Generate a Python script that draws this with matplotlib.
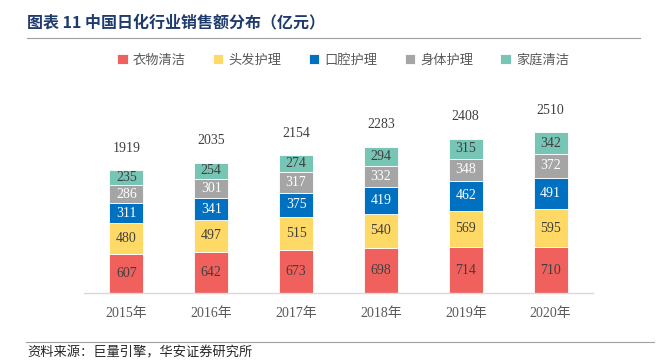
import matplotlib
matplotlib.use("Agg")
import matplotlib.pyplot as plt
import numpy as np

years = ["2015年", "2016年", "2017年", "2018年", "2019年", "2020年"]
clothing = [607, 642, 673, 698, 714, 710]
hair = [480, 497, 515, 540, 569, 595]
oral = [311, 341, 375, 419, 462, 491]
body = [286, 301, 317, 332, 348, 372]
home = [235, 254, 274, 294, 315, 342]
totals = [1919, 2035, 2154, 2283, 2408, 2510]

series = [
    ("衣物清洁", clothing, "#F0605D", "#404040"),
    ("头发护理", hair, "#FFD966", "#404040"),
    ("口腔护理", oral, "#0070C0", "white"),
    ("身体护理", body, "#A5A5A5", "white"),
    ("家庭清洁", home, "#76C5B5", "#404040"),
]

num_font = ["Liberation Serif", "Noto Sans CJK SC"]
cjk_font = ["Noto Sans CJK SC", "DejaVu Sans"]

fig = plt.figure(figsize=(6.65, 3.62), dpi=100)
ax = fig.add_axes([84 / 665, 69 / 362, 509 / 665, 208 / 362])

x = np.arange(len(years))
bottom = np.zeros(len(years))
handles = []
for name, vals, color, tcolor in series:
    bars = ax.bar(x, vals, width=0.40, bottom=bottom, color=color,
                  edgecolor="white", linewidth=0.6, label=name)
    handles.append(bars)
    for xi, b, v in zip(x, bottom, vals):
        ax.text(xi, b + v / 2, str(v), ha="center", va="center",
                fontsize=10, color=tcolor, family=num_font)
    bottom += np.array(vals)

for xi, t in zip(x, totals):
    ax.text(xi, t + 340, str(t), ha="center", va="center",
            fontsize=10, color="#404040", family=num_font)

ax.set_xlim(-0.5, len(years) - 0.5)
ax.set_ylim(0, 3245)
ax.set_xticks(x)
ax.set_xticklabels(years, family=num_font, fontsize=10, color="#595959")
ax.tick_params(axis="x", length=0, pad=10)
ax.set_yticks([])
for s in ["top", "right", "left"]:
    ax.spines[s].set_visible(False)
ax.spines["bottom"].set_color("#D9D9D9")
ax.spines["bottom"].set_linewidth(1.0)

fig.legend(handles=handles, loc="center", bbox_to_anchor=(0.516, 1 - 60 / 362),
           ncol=5, frameon=False, handlelength=0.8, handleheight=0.8,
           handletextpad=0.4, columnspacing=2.05,
           prop={"family": cjk_font, "size": 9.5}, labelcolor="#595959")

fig.text(27 / 665, 1 - 22 / 362, "图表 11 中国日化行业销售额分布（亿元）",
         ha="left", va="center", fontsize=11.5, fontweight="bold",
         color="#1F3B6E", family=cjk_font)
fig.add_artist(plt.Line2D([27 / 665, 640 / 665], [1 - 38 / 362, 1 - 38 / 362],
                          color="#A0A0A0", linewidth=0.8))
fig.add_artist(plt.Line2D([26 / 665, 654 / 665], [1 - 342 / 362, 1 - 342 / 362],
                          color="#A0A0A0", linewidth=0.8))
fig.text(27 / 665, 1 - 353 / 362, "资料来源：巨量引擎，华安证券研究所",
         ha="left", va="center", fontsize=9.5, color="#262626", family=cjk_font)

fig.savefig("out.png", dpi=100)
